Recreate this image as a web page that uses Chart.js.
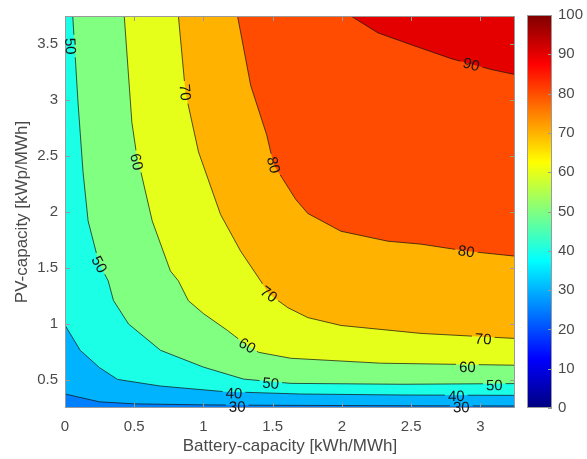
<!DOCTYPE html>
<html>
<head>
<meta charset="utf-8">
<script src="https://cdn.jsdelivr.net/npm/chart.js@4.4.1/dist/chart.umd.min.js"></script>
<style>
  body { margin: 0; background: #fff; }
  #wrap { position: relative; width: 587px; height: 459px; }
  #wrap canvas { position: absolute; left: 0; top: 0; }
</style>
</head>
<body>
<div id="wrap">
  <canvas id="contour" width="587" height="459"></canvas>
  <canvas id="colorbar" width="587" height="459"></canvas>
</div>
<script>
// contour levels and their iso-lines, [battery, pv] pairs
const levels = [30, 40, 50, 60, 70, 80, 90];
const line30 = [[0, 0.375], [0.25, 0.305], [0.5, 0.287], [1.0, 0.278], [1.5, 0.274], [2.5, 0.27], [3.25, 0.268]];
const line40 = [[0, 0.99], [0.11, 0.765], [0.25, 0.61], [0.38, 0.505], [0.69, 0.446], [1.15, 0.396], [1.7, 0.375], [2.45, 0.366], [3.25, 0.363]];
const line50 = [[0.056, 3.75], [0.094, 2.98], [0.13, 2.36], [0.167, 1.92], [0.246, 1.54], [0.312, 1.385], [0.35, 1.21], [0.459, 1.0], [0.69, 0.765], [1.0, 0.615], [1.29, 0.508], [1.63, 0.47], [2.43, 0.462], [3.25, 0.468]];
const line60 = [[0.428, 3.75], [0.483, 2.8], [0.514, 2.54], [0.63, 1.92], [0.761, 1.474], [0.819, 1.385], [0.891, 1.208], [1.0, 1.093], [1.174, 0.942], [1.304, 0.818], [1.399, 0.747], [1.63, 0.694], [2.28, 0.65], [3.25, 0.632]];
const line70 = [[0.819, 3.75], [0.87, 3.068], [0.964, 2.537], [1.123, 1.979], [1.268, 1.651], [1.413, 1.385], [1.471, 1.27], [1.609, 1.146], [1.754, 1.057], [1.993, 0.987], [2.572, 0.916], [3.25, 0.871]];
const line80 = [[1.246, 3.75], [1.341, 3.13], [1.457, 2.687], [1.507, 2.421], [1.572, 2.297], [1.667, 2.111], [1.754, 1.987], [1.993, 1.828], [2.333, 1.739], [2.572, 1.713], [2.899, 1.651], [3.25, 1.606]];
const line90 = [[2.065, 3.75], [2.261, 3.599], [2.522, 3.484], [2.79, 3.369], [3.08, 3.272], [3.25, 3.227]];
const contourLines = { 30: line30, 40: line40, 50: line50, 60: line60, 70: line70, 80: line80, 90: line90 };

// value under the lowest contour
const baseValue = 25;

// inline level labels: [level, battery, pv]
const labelSpots = [
  [50, 0.041, 3.48], [70, 0.87, 3.068], [60, 0.519, 2.448], [80, 1.507, 2.421],
  [50, 0.249, 1.533], [70, 1.473, 1.267], [60, 1.317, 0.809], [50, 1.486, 0.473],
  [40, 1.22, 0.382], [30, 1.244, 0.263], [90, 2.935, 3.319], [80, 2.899, 1.651],
  [70, 3.02, 0.868], [60, 2.906, 0.617], [50, 3.10, 0.455], [40, 2.826, 0.358],
  [30, 2.862, 0.257]
];

const xTicks = [0, 0.5, 1, 1.5, 2, 2.5, 3];
const yTicks = [0.5, 1, 1.5, 2, 2.5, 3, 3.5];
const barTicks = [0, 10, 20, 30, 40, 50, 60, 70, 80, 90, 100];

const FONT = '"Liberation Sans", Arial, Helvetica, sans-serif';
const TEXT = '#4a4a4a';
const AXIS = '#9a9a9a';

function jet(v) {
  const ch = c => Math.round(255 * Math.min(1, Math.max(0, 1.5 - Math.abs(4 * v - c))));
  return `rgb(${ch(3)},${ch(2)},${ch(1)})`;
}

function labelBoxes(chart) {
  const xs = chart.scales.x, ys = chart.scales.y, ctx = chart.ctx;
  ctx.save();
  ctx.font = `15px ${FONT}`;
  const boxes = labelSpots.map(([level, x, y]) => {
    const px = xs.getPixelForValue(x), py = ys.getPixelForValue(y);
    const pts = contourLines[level].map(([a, b]) => [xs.getPixelForValue(a), ys.getPixelForValue(b)]);
    // follow the direction of the closest segment
    let best = Infinity, angle = 0;
    for (let i = 0; i < pts.length - 1; i++) {
      const [x0, y0] = pts[i], [x1, y1] = pts[i + 1];
      const dx = x1 - x0, dy = y1 - y0;
      const t = Math.max(0, Math.min(1, ((px - x0) * dx + (py - y0) * dy) / (dx * dx + dy * dy)));
      const d = Math.hypot(x0 + t * dx - px, y0 + t * dy - py);
      if (d < best) { best = d; angle = Math.atan2(dy, dx); }
    }
    if (angle > Math.PI / 2) angle -= Math.PI;
    if (angle <= -Math.PI / 2) angle += Math.PI;
    const text = String(level);
    return { level, text, px, py, angle, hw: ctx.measureText(text).width / 2 + 3, hh: 8 };
  });
  ctx.restore();
  return boxes;
}

const plotFrame = {
  id: 'plotFrame',
  beforeDraw(chart) {
    const { ctx, chartArea: a } = chart;
    ctx.save();
    ctx.fillStyle = jet(baseValue / 100);
    ctx.fillRect(a.left, a.top, a.width, a.height);
    ctx.restore();
  },
  // leave a gap in each line where its labels sit
  beforeDatasetDraw(chart, args) {
    const level = levels[args.index];
    const { ctx, width, height } = chart;
    ctx.save();
    ctx.beginPath();
    ctx.rect(0, 0, width, height);
    labelBoxes(chart).filter(b => b.level === level).forEach(b => {
      const c = Math.cos(b.angle), s = Math.sin(b.angle);
      [[-b.hw, -b.hh], [b.hw, -b.hh], [b.hw, b.hh], [-b.hw, b.hh]].forEach(([u, v], i) => {
        const X = b.px + u * c - v * s, Y = b.py + u * s + v * c;
        if (i) ctx.lineTo(X, Y); else ctx.moveTo(X, Y);
      });
      ctx.closePath();
    });
    ctx.clip('evenodd');
  },
  afterDatasetDraw(chart) {
    chart.ctx.restore();
  },
  afterDatasetsDraw(chart) {
    const { ctx, chartArea: a, scales } = chart;
    ctx.save();
    ctx.strokeStyle = AXIS;
    ctx.lineWidth = 1;
    ctx.strokeRect(a.left + 0.5, a.top + 0.5, a.width - 1, a.height - 1);
    ctx.beginPath();
    xTicks.forEach(v => {
      const p = Math.round(scales.x.getPixelForValue(v)) + 0.5;
      ctx.moveTo(p, a.bottom); ctx.lineTo(p, a.bottom - 5);
      ctx.moveTo(p, a.top); ctx.lineTo(p, a.top + 5);
    });
    yTicks.forEach(v => {
      const p = Math.round(scales.y.getPixelForValue(v)) + 0.5;
      ctx.moveTo(a.left, p); ctx.lineTo(a.left + 5, p);
      ctx.moveTo(a.right, p); ctx.lineTo(a.right - 5, p);
    });
    ctx.stroke();
    ctx.restore();
  },
  afterDraw(chart) {
    const ctx = chart.ctx;
    ctx.save();
    ctx.font = `15px ${FONT}`;
    ctx.fillStyle = '#151515';
    ctx.textAlign = 'center';
    ctx.textBaseline = 'middle';
    labelBoxes(chart).forEach(b => {
      ctx.save();
      ctx.translate(b.px, b.py);
      ctx.rotate(b.angle);
      ctx.fillText(b.text, 0, 1);
      ctx.restore();
    });
    ctx.restore();
  }
};

new Chart(document.getElementById('contour'), {
  type: 'scatter',
  data: {
    datasets: levels.map(level => ({
      label: String(level),
      data: contourLines[level].map(([x, y]) => ({ x, y })),
      showLine: true,
      fill: 'end',
      backgroundColor: jet(level / 100),
      borderColor: 'rgba(20,20,20,0.9)',
      borderWidth: 0.8,
      pointRadius: 0,
      tension: 0,
      order: 100 - level
    }))
  },
  options: {
    responsive: false,
    animation: false,
    layout: { padding: { left: 0, top: 13, right: 72, bottom: 0 } },
    plugins: {
      legend: { display: false },
      tooltip: { enabled: false },
      filler: { drawTime: 'beforeDatasetsDraw' }
    },
    scales: {
      x: {
        type: 'linear', min: 0, max: 3.25,
        afterBuildTicks: s => { s.ticks = xTicks.map(v => ({ value: v })); },
        afterFit: s => { s.height = 51; },
        grid: { display: false, drawTicks: false },
        border: { display: false },
        ticks: { callback: v => String(v), color: TEXT, font: { family: FONT, size: 15 }, padding: 10, maxRotation: 0, autoSkip: false },
        title: { display: true, text: 'Battery-capacity [kWh/MWh]', color: TEXT, font: { family: FONT, size: 17 }, padding: { bottom: 2 } }
      },
      y: {
        type: 'linear', min: 0.25, max: 3.75,
        afterBuildTicks: s => { s.ticks = yTicks.map(v => ({ value: v })); },
        afterFit: s => { s.width = 65; },
        grid: { display: false, drawTicks: false },
        border: { display: false },
        ticks: { callback: v => String(v), color: TEXT, font: { family: FONT, size: 15 }, padding: 7, autoSkip: false },
        title: { display: true, text: 'PV-capacity [kWp/MWh]', color: TEXT, font: { family: FONT, size: 17 }, padding: { top: 12 } }
      }
    }
  },
  plugins: [plotFrame]
});

const barFrame = {
  id: 'barFrame',
  afterDatasetsDraw(chart) {
    const { ctx, chartArea: a, scales } = chart;
    ctx.save();
    ctx.strokeStyle = AXIS;
    ctx.lineWidth = 1;
    ctx.strokeRect(a.left + 0.5, a.top + 0.5, a.width - 1, a.height - 1);
    ctx.beginPath();
    barTicks.forEach(v => {
      const p = Math.round(scales.y.getPixelForValue(v)) + 0.5;
      ctx.moveTo(a.right, p); ctx.lineTo(a.right - 4, p);
    });
    ctx.stroke();
    ctx.restore();
  }
};

new Chart(document.getElementById('colorbar'), {
  type: 'bar',
  data: {
    labels: [''],
    datasets: [{
      data: [[0, 100]],
      backgroundColor: c => {
        const { ctx, chartArea } = c.chart;
        if (!chartArea) return 'transparent';
        const g = ctx.createLinearGradient(0, chartArea.bottom, 0, chartArea.top);
        for (let i = 0; i <= 32; i++) g.addColorStop(i / 32, jet(i / 32));
        return g;
      },
      borderWidth: 0,
      barPercentage: 1,
      categoryPercentage: 1
    }]
  },
  options: {
    responsive: false,
    animation: false,
    layout: { padding: { left: 527, top: 13, right: 0, bottom: 51 } },
    plugins: { legend: { display: false }, tooltip: { enabled: false } },
    scales: {
      x: { display: false },
      y: {
        position: 'right', min: 0, max: 100,
        afterBuildTicks: s => { s.ticks = barTicks.map(v => ({ value: v })); },
        afterFit: s => { s.width = 35; },
        grid: { display: false, drawTicks: false },
        border: { display: false },
        ticks: { color: TEXT, font: { family: FONT, size: 15 }, padding: 6, autoSkip: false }
      }
    }
  },
  plugins: [barFrame]
});
</script>
</body>
</html>
